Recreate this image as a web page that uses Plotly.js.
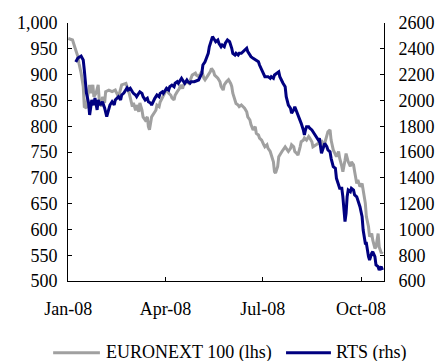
<!DOCTYPE html>
<html>
<head>
<meta charset="utf-8">
<script src="https://cdn.plot.ly/plotly-3.0.1.min.js"></script>
<style>html,body{margin:0;padding:0;background:#fff;}</style>
</head>
<body>
<div id="chart" style="width:438px;height:361px;"></div>
<script>
// ---- data ----
const euronextDates = [
'2008-01-01','2008-01-05','2008-01-07','2008-01-08','2008-01-10','2008-01-11','2008-01-13','2008-01-15','2008-01-16','2008-01-18','2008-01-19','2008-01-21','2008-01-22','2008-01-24','2008-01-25','2008-01-27','2008-01-29','2008-01-30',
'2008-02-01','2008-02-02','2008-02-04','2008-02-05','2008-02-08','2008-02-11','2008-02-14','2008-02-17','2008-02-20','2008-02-24','2008-02-27',
'2008-03-01','2008-03-02','2008-03-04','2008-03-05','2008-03-07','2008-03-08','2008-03-10','2008-03-11','2008-03-13','2008-03-15','2008-03-16','2008-03-17','2008-03-19','2008-03-21','2008-03-23','2008-03-24','2008-03-26','2008-03-27','2008-03-29','2008-03-30',
'2008-04-01','2008-04-03','2008-04-04','2008-04-06','2008-04-07','2008-04-09','2008-04-10','2008-04-12','2008-04-14','2008-04-15','2008-04-17','2008-04-18','2008-04-20','2008-04-21','2008-04-23','2008-04-24','2008-04-26','2008-04-29','2008-04-30',
'2008-05-02','2008-05-04','2008-05-05','2008-05-07','2008-05-08','2008-05-10','2008-05-11','2008-05-13','2008-05-14','2008-05-16','2008-05-17','2008-05-19','2008-05-20','2008-05-22','2008-05-23','2008-05-25','2008-05-26','2008-05-28','2008-05-30',
'2008-06-01','2008-06-02','2008-06-03','2008-06-05','2008-06-06','2008-06-08','2008-06-09','2008-06-11','2008-06-13','2008-06-14','2008-06-16','2008-06-17','2008-06-19','2008-06-20','2008-06-22','2008-06-24','2008-06-25','2008-06-27','2008-06-28','2008-06-30',
'2008-07-02','2008-07-03','2008-07-05','2008-07-06','2008-07-08','2008-07-09','2008-07-11','2008-07-12','2008-07-13','2008-07-15','2008-07-16','2008-07-19','2008-07-20','2008-07-22','2008-07-23','2008-07-25','2008-07-27','2008-07-28','2008-07-30','2008-07-31',
'2008-08-02','2008-08-03','2008-08-05','2008-08-06','2008-08-08','2008-08-09','2008-08-11','2008-08-13','2008-08-14','2008-08-16','2008-08-17','2008-08-19','2008-08-20','2008-08-22','2008-08-23','2008-08-25','2008-08-27','2008-08-28','2008-08-30','2008-08-31',
'2008-09-02','2008-09-03','2008-09-05','2008-09-07','2008-09-08','2008-09-10','2008-09-11','2008-09-13','2008-09-14','2008-09-16','2008-09-17','2008-09-19','2008-09-21','2008-09-22','2008-09-24','2008-09-25','2008-09-27','2008-09-28','2008-09-30',
'2008-10-02','2008-10-03','2008-10-05','2008-10-06','2008-10-08','2008-10-09','2008-10-11','2008-10-12','2008-10-14','2008-10-15','2008-10-17','2008-10-18','2008-10-20','2008-10-21'
];
const euronextValues = [
970,967,954,948,935,922,903,877,838,835,857,880,864,880,857,864,880,851,
838,857,845,867,870,867,870,857,880,883,864,
838,845,831,841,828,845,831,818,812,818,799,793,818,826,831,841,838,847,855,857,
867,870,864,860,855,851,860,867,873,880,873,880,883,886,883,890,899,903,899,
896,903,906,893,890,896,899,906,912,906,899,896,893,886,877,870,880,886,890,
883,877,864,851,844,841,838,841,838,835,828,818,812,803,793,799,786,783,777,773,
764,760,764,757,751,744,731,712,709,722,741,751,754,760,757,751,757,764,760,751,
747,744,760,770,773,777,773,780,777,770,760,764,764,767,767,773,760,767,786,789,
793,773,754,744,741,751,738,722,712,734,747,731,722,731,725,712,689,696,683,
689,676,651,625,605,586,592,579,563,566,592,566,554,557
];

const rtsDates = [
'2008-01-08','2008-01-10','2008-01-13','2008-01-15','2008-01-16','2008-01-17','2008-01-18','2008-01-20','2008-01-21','2008-01-23','2008-01-25','2008-01-26','2008-01-28','2008-01-29','2008-01-31',
'2008-02-02','2008-02-04','2008-02-06','2008-02-08','2008-02-09','2008-02-11','2008-02-13','2008-02-14','2008-02-16','2008-02-17','2008-02-19','2008-02-20','2008-02-22','2008-02-24','2008-02-25','2008-02-26','2008-02-28',
'2008-03-01','2008-03-02','2008-03-04','2008-03-05','2008-03-07','2008-03-08','2008-03-10','2008-03-11','2008-03-13','2008-03-15','2008-03-16','2008-03-18','2008-03-19','2008-03-21','2008-03-22','2008-03-24','2008-03-26','2008-03-27','2008-03-29','2008-03-30',
'2008-04-01','2008-04-02','2008-04-04','2008-04-05','2008-04-07','2008-04-09','2008-04-10','2008-04-12','2008-04-13','2008-04-15','2008-04-16','2008-04-18','2008-04-19','2008-04-21','2008-04-22','2008-04-24','2008-04-25','2008-04-28',
'2008-05-02','2008-05-05','2008-05-06','2008-05-08','2008-05-09','2008-05-11','2008-05-12','2008-05-14','2008-05-15','2008-05-17','2008-05-18','2008-05-20','2008-05-21','2008-05-23','2008-05-24','2008-05-26','2008-05-27','2008-05-29','2008-05-31',
'2008-06-02','2008-06-03','2008-06-05','2008-06-06','2008-06-08','2008-06-09','2008-06-11','2008-06-13','2008-06-14','2008-06-16','2008-06-17','2008-06-19','2008-06-20','2008-06-22','2008-06-24','2008-06-25','2008-06-27','2008-06-28','2008-06-30',
'2008-07-02','2008-07-03','2008-07-06','2008-07-08','2008-07-09','2008-07-11','2008-07-12','2008-07-14','2008-07-16','2008-07-17','2008-07-19','2008-07-20','2008-07-22','2008-07-23','2008-07-25','2008-07-27','2008-07-28','2008-07-30','2008-07-31',
'2008-08-02','2008-08-03','2008-08-05','2008-08-06','2008-08-08','2008-08-09','2008-08-10','2008-08-11','2008-08-13','2008-08-14','2008-08-16','2008-08-17','2008-08-19','2008-08-20','2008-08-22','2008-08-23','2008-08-25','2008-08-27','2008-08-28','2008-08-30','2008-08-31',
'2008-09-02','2008-09-03','2008-09-05','2008-09-07','2008-09-08','2008-09-10','2008-09-11','2008-09-13','2008-09-14','2008-09-16','2008-09-17','2008-09-18','2008-09-19','2008-09-21','2008-09-22','2008-09-24','2008-09-25','2008-09-27','2008-09-28','2008-09-30',
'2008-10-02','2008-10-03','2008-10-05','2008-10-06','2008-10-08','2008-10-09','2008-10-11','2008-10-12','2008-10-14','2008-10-15','2008-10-17','2008-10-18','2008-10-20','2008-10-21'
];
const rtsValues = [
2298,2329,2344,2313,2236,2158,2057,1980,1887,2003,1964,2019,1926,2003,1964,
1990,1941,1874,1926,1964,1990,1964,2003,2019,2029,2003,2042,2057,2081,2096,2081,2094,
2067,2055,2042,2029,2055,2067,2055,2029,2003,2016,1990,1980,1964,2003,2016,2042,2029,2055,2067,2055,
2081,2094,2081,2106,2119,2106,2133,2145,2133,2158,2171,2145,2133,2158,2145,2133,2145,2145,
2158,2210,2274,2300,2326,2365,2416,2481,2494,2468,2455,2468,2443,2416,2429,2416,2443,2468,2455,
2404,2365,2352,2365,2352,2365,2365,2378,2391,2404,2378,2352,2339,2326,2313,2313,2300,2274,2236,
2197,2184,2184,2171,2184,2171,2197,2210,2222,2184,2145,2133,2106,2029,1964,1939,1900,1926,1951,
1912,1887,1848,1822,1771,1732,1771,1796,1796,1784,1771,1757,1740,1719,1693,1706,1590,1641,1667,1641,1616,
1602,1551,1486,1474,1396,1344,1319,1319,1253,1060,1125,1253,1305,1292,1319,1305,1267,1253,1228,1176,
1098,995,892,892,788,763,815,827,788,724,711,685,711,685
];

const xTickDates = ['2008-01-01','2008-04-01','2008-07-01','2008-10-01'];
const xTickLabels = ['Jan-08','Apr-08','Jul-08','Oct-08'];
const seriesNames = ['EURONEXT 100 (lhs)', 'RTS (rhs)'];

// ---- styling ----
const FONT = 'Liberation Serif, Times New Roman, serif';
const GREY = '#A0A0A0';
const NAVY = '#000080';

const traces = [
  {x: euronextDates, y: euronextValues, name: seriesNames[0], type: 'scatter', mode: 'lines',
   line: {color: GREY, width: 3}, yaxis: 'y'},
  {x: rtsDates, y: rtsValues, name: seriesNames[1], type: 'scatter', mode: 'lines',
   line: {color: NAVY, width: 3}, yaxis: 'y2'}
];

const tickFont = {family: FONT, size: 18, color: '#000'};

const layout = {
  width: 438, height: 361,
  margin: {l: 68, r: 54, t: 23, b: 80, pad: 0},
  paper_bgcolor: '#fff', plot_bgcolor: '#fff',
  showlegend: false,
  font: {family: FONT, size: 18, color: '#000'},
  xaxis: {
    type: 'date', range: ['2007-12-31 18:00', '2008-10-22 12:00'],
    tickmode: 'array', tickvals: xTickDates, ticktext: xTickLabels,
    ticks: 'inside', ticklen: 4, tickcolor: '#000', tickwidth: 1,
    showline: true, linecolor: '#000', linewidth: 1,
    showgrid: false, zeroline: false, tickfont: tickFont, ticklabelstandoff: 11
  },
  yaxis: {
    range: [500, 1000], dtick: 50, tick0: 500, tickformat: ',d',
    ticks: 'inside', ticklen: 4, tickcolor: '#000',
    showline: true, linecolor: '#000', linewidth: 1,
    showgrid: false, zeroline: false, tickfont: tickFont, ticklabelstandoff: 6
  },
  yaxis2: {
    overlaying: 'y', side: 'right',
    range: [600, 2600], dtick: 200, tick0: 600, tickformat: 'd',
    ticks: 'inside', ticklen: 4, tickcolor: '#000',
    showline: true, linecolor: '#000', linewidth: 1,
    showgrid: false, zeroline: false, tickfont: tickFont, ticklabelstandoff: 10
  },
  shapes: [
    {type: 'line', xref: 'paper', yref: 'paper', x0: -0.047, x1: 0.101, y0: -0.278, y1: -0.278,
     line: {color: GREY, width: 3}},
    {type: 'line', xref: 'paper', yref: 'paper', x0: 0.690, x1: 0.832, y0: -0.278, y1: -0.278,
     line: {color: NAVY, width: 3}}
  ],
  annotations: [
    {xref: 'paper', yref: 'paper', x: 0.114, y: -0.278, xanchor: 'left', yanchor: 'middle',
     text: seriesNames[0], showarrow: false, font: {family: FONT, size: 18, color: '#000'}},
    {xref: 'paper', yref: 'paper', x: 0.842, y: -0.278, xanchor: 'left', yanchor: 'middle',
     text: seriesNames[1], showarrow: false, font: {family: FONT, size: 18, color: '#000'}}
  ]
};

Plotly.newPlot('chart', traces, layout, {displayModeBar: false, staticPlot: true});
</script>
</body>
</html>
